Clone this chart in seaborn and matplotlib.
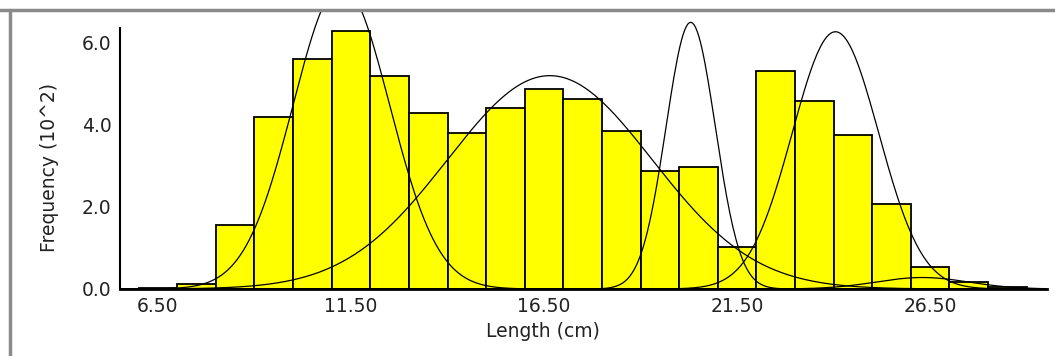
import numpy as np
import pandas as pd
import seaborn as sns
import matplotlib.pyplot as plt
from matplotlib.lines import Line2D

# histogram bins (cm) and frequencies (x100)
bin_centers = [6.5, 7.5, 8.5, 9.5, 10.5, 11.5, 12.5, 13.5, 14.5, 15.5, 16.5, 17.5,
               18.5, 19.5, 20.5, 21.5, 22.5, 23.5, 24.5, 25.5, 26.5, 27.5, 28.5]
freq = [0.03, 0.12, 1.55, 4.2, 5.6, 6.3, 5.2, 4.3, 3.8, 4.4, 4.87, 4.63,
        3.85, 2.87, 2.97, 1.02, 5.32, 4.59, 3.75, 2.07, 0.53, 0.17, 0.06]

# fitted normal components
comp_mean = [11.25, 16.65, 20.3, 24.05, 26.3]
comp_sd = [1.25, 2.65, 0.64, 1.12, 1.2]
comp_peak = [7.4, 5.2, 6.5, 6.27, 0.28]

x_ticks = [6.5, 11.5, 16.5, 21.5, 26.5]
x_ticklabels = ["6.50", "11.50", "16.50", "21.50", "26.50"]
y_ticks = [0, 2, 4, 6]
y_ticklabels = ["0.0", "2.0", "4.0", "6.0"]

sns.set_style("white")
plt.rcParams['font.family'] = ['DejaVu Sans']

fig = plt.figure(figsize=(10.55, 3.56), dpi=100)
ax = fig.add_axes([120 / 1055, 67 / 356, 927 / 1055, 279 / 356])

df = pd.DataFrame({"length": bin_centers, "freq": freq})
edges = [c - 0.5 for c in bin_centers] + [bin_centers[-1] + 0.5]
sns.histplot(data=df, x="length", weights="freq", bins=edges, color="#ffff00",
             edgecolor="black", linewidth=1.3, alpha=1, ax=ax, zorder=2)

grid = np.linspace(5.5, 29.6, 600)
for m, s, a in zip(comp_mean, comp_sd, comp_peak):
    curve = pd.DataFrame({"x": grid, "y": a * np.exp(-(grid - m) ** 2 / (2 * s ** 2))})
    sns.lineplot(data=curve, x="x", y="y", color="black", linewidth=0.9, ax=ax, zorder=3)

ax.set_xlim(5.516, 29.53)
ax.set_ylim(0, 6.8)
ax.set_xticks(x_ticks)
ax.set_xticklabels(x_ticklabels, fontsize=13.5, color="#222222")
ax.set_yticks(y_ticks)
ax.set_yticklabels(y_ticklabels, fontsize=13.5, color="#222222")
ax.tick_params(direction="in", length=5, width=1.3, pad=6, colors="black")
ax.tick_params(labelcolor="#222222")
ax.set_xlabel("Length (cm)", fontsize=13.5, color="#222222")
ax.set_ylabel("Frequency (10^2)", fontsize=13.5, color="#222222")
ax.xaxis.set_label_coords(0.456, -0.118)
ax.yaxis.set_label_coords(-0.066, 0.437)

for side in ["top", "right"]:
    ax.spines[side].set_visible(False)
ax.spines["left"].set_bounds(0, 6.35)
ax.spines["left"].set_linewidth(1.5)
ax.spines["bottom"].set_linewidth(2)
ax.spines["left"].set_color("black")
ax.spines["bottom"].set_color("black")

# grey window frame
fig.add_artist(Line2D([0, 1], [1 - 10 / 356, 1 - 10 / 356], color="#8a8a8a", lw=2.5))
fig.add_artist(Line2D([10 / 1055, 10 / 1055], [0, 1 - 10 / 356], color="#8a8a8a", lw=2.5))

fig.savefig("out.png", dpi=100)
